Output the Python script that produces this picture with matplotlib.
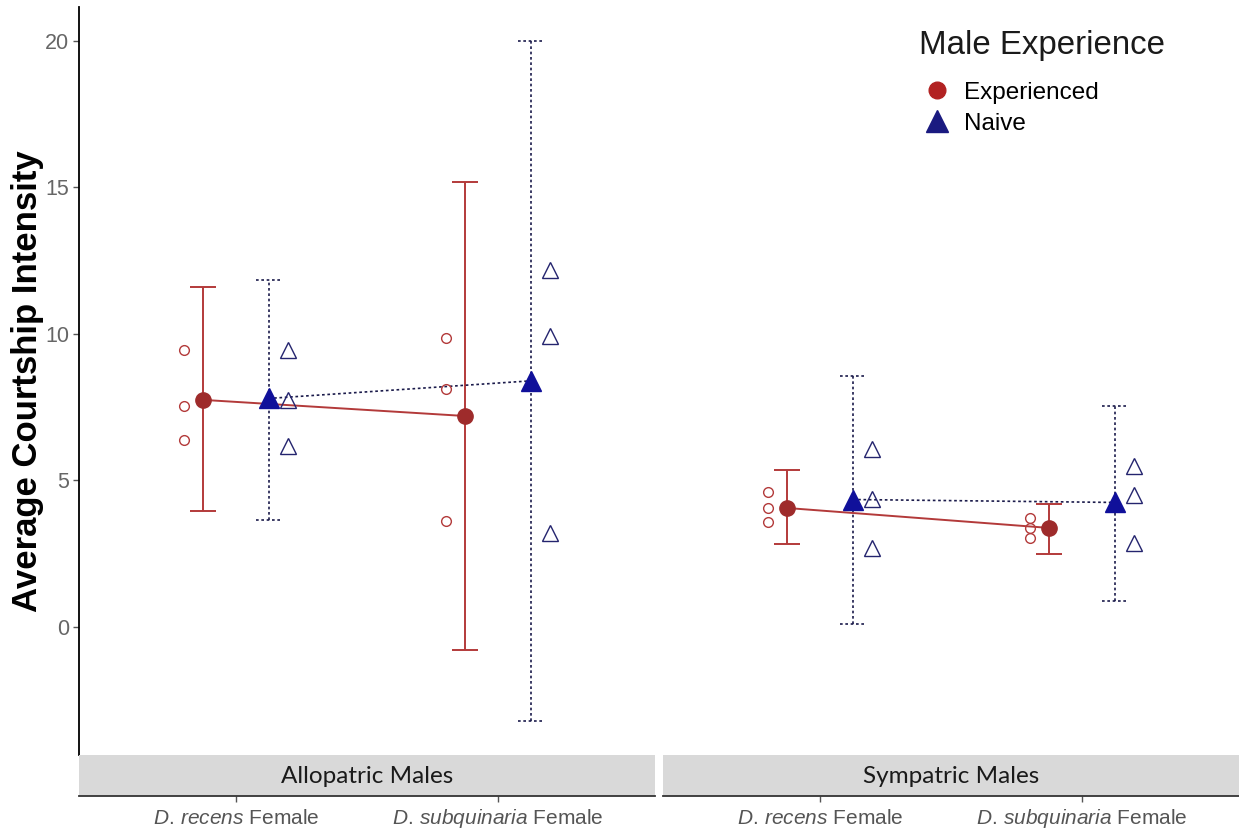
import matplotlib
matplotlib.use("Agg")
import matplotlib.pyplot as plt
from matplotlib.lines import Line2D

plt.rcParams["font.family"] = ["Liberation Sans", "DejaVu Sans"]
plt.rcParams["mathtext.fontset"] = "custom"
plt.rcParams["mathtext.it"] = "Liberation Sans:italic"
plt.rcParams["mathtext.rm"] = "Liberation Sans"

panels = ["Allopatric Males", "Sympatric Males"]
females = [r"$\mathit{D.}\,\mathit{recens}$ Female",
           r"$\mathit{D.}\,\mathit{subquinaria}$ Female"]

# group means and error bar limits, indexed [panel][female]
exp_mean = [[7.75, 7.2], [4.06, 3.38]]
exp_low = [[3.96, -0.78], [2.83, 2.49]]
exp_high = [[11.6, 15.2], [5.36, 4.2]]
naive_mean = [[7.8, 8.4], [4.35, 4.25]]
naive_low = [[3.65, -3.21], [0.1, 0.89]]
naive_high = [[11.84, 20.0], [8.57, 7.54]]

# replicate scores, indexed [panel][female][replicate]
exp_raw = [[[9.45, 7.54, 6.38], [9.86, 8.12, 3.62]],
           [[4.6, 4.06, 3.58], [3.72, 3.38, 3.04]]]
naive_raw = [[[9.45, 7.75, 6.18], [12.18, 9.93, 3.2]],
             [[6.07, 4.37, 2.7], [5.5, 4.5, 2.87]]]

EXP_COL = "#9e2b2b"
EXP_BAR = "#b33a3a"
NAIVE_COL = "#10109a"
NAIVE_BAR = "#1b1b4b"
DOTS = (0, (1.6, 1.6))
DODGE = 0.125
RAW_SHIFT = 0.2
CAP = 0.05

W, H = 1239, 830
fig = plt.figure(figsize=(W / 100, H / 100), dpi=100)

panel_left = [79, 663]
panel_w = 576
for p, name in enumerate(panels):
    x0 = panel_left[p] / W
    ax = fig.add_axes([x0, 75 / H, panel_w / W, 748 / H])
    strip = fig.add_axes([x0, 34 / H, panel_w / W, 41 / H], sharex=ax)

    xs = [1, 2]
    xe = [x - DODGE for x in xs]
    xn = [x + DODGE for x in xs]

    # error bars
    ax.vlines(xe, exp_low[p], exp_high[p], color=EXP_BAR, lw=1.4, zorder=2)
    ax.hlines(exp_low[p] + exp_high[p], [x - CAP for x in xe] * 2,
              [x + CAP for x in xe] * 2, color=EXP_BAR, lw=1.4, zorder=2)
    ax.vlines(xn, naive_low[p], naive_high[p], color=NAIVE_BAR, lw=1.2,
              linestyles=[DOTS], zorder=2)
    ax.hlines(naive_low[p] + naive_high[p], [x - CAP for x in xn] * 2,
              [x + CAP for x in xn] * 2, color=NAIVE_BAR, lw=1.2,
              linestyles=[DOTS], zorder=2)

    # lines joining group means
    ax.plot(xe, exp_mean[p], color=EXP_BAR, lw=1.4, zorder=3)
    ax.plot(xn, naive_mean[p], color=NAIVE_BAR, lw=1.2, ls=DOTS, zorder=3)

    # replicate points
    for i, x in enumerate(xs):
        ax.plot([x - RAW_SHIFT] * len(exp_raw[p][i]), exp_raw[p][i], "o",
                ms=7, mfc="none", mec=EXP_BAR, mew=1.0, zorder=4)
        ax.plot([x + RAW_SHIFT] * len(naive_raw[p][i]), naive_raw[p][i], "^",
                ms=12, mfc="none", mec="#24246e", mew=1.0, zorder=4)

    # group means
    ax.plot(xe, exp_mean[p], "o", ms=11, color=EXP_COL, zorder=5)
    ax.plot(xn, naive_mean[p], "^", ms=15, color=NAIVE_COL, zorder=5)

    ax.set_xlim(0.4, 2.6)
    ax.set_ylim(-4.37, 21.16)
    for s in ["top", "right", "bottom"]:
        ax.spines[s].set_visible(False)
    ax.tick_params(axis="x", bottom=False, labelbottom=False)
    if p == 0:
        ax.spines["left"].set_linewidth(1.3)
        ax.set_yticks([0, 5, 10, 15, 20])
        ax.tick_params(axis="y", length=4, width=1, color="#555555",
                       labelsize=15.5, labelcolor="#666666", pad=3)
    else:
        ax.spines["left"].set_visible(False)
        ax.tick_params(axis="y", left=False, labelleft=False)

    # facet strip underneath the panel
    strip.set_facecolor("#d9d9d9")
    strip.set_ylim(0, 1)
    for s in ["top", "right", "left"]:
        strip.spines[s].set_visible(False)
    strip.spines["bottom"].set_linewidth(1.3)
    strip.spines["bottom"].set_color("#333333")
    strip.set_yticks([])
    strip.set_xticks(xs)
    strip.set_xticklabels(females)
    strip.tick_params(axis="x", length=4, width=1, color="#555555",
                      labelsize=15, labelcolor="#555555", pad=16)
    # keep both labels on a common baseline despite different ascenders
    for lbl in strip.get_xticklabels():
        lbl.set_verticalalignment("baseline")
    strip.text(0.5, 0.47, name, transform=strip.transAxes, ha="center",
               va="center", fontsize=17.5, family="Lato", color="#1a1a1a")

fig.text(28 / W, 1 - 381 / H, "Average Courtship Intensity", rotation=90,
         ha="center", va="center", fontsize=25, fontweight="bold")

# legend: title drawn separately so the gap below it can be set freely
fig.text(919 / W, 1 - 54 / H, "Male Experience", ha="left", va="baseline",
         fontsize=23.8, color="#1a1a1a")
handles = [
    Line2D([], [], ls="none", marker="o", ms=12, color="#b22222"),
    Line2D([], [], ls="none", marker="^", ms=16, color="#1a1a80"),
]
fig.legend(handles, ["Experienced", "Naive"],
           loc="upper left", bbox_to_anchor=(913 / W, 1 - 72 / H),
           frameon=False, fontsize=17.5,
           handletextpad=0.5, labelspacing=0.36, borderaxespad=0,
           handlelength=1.2)

fig.savefig("out.png", dpi=100)
